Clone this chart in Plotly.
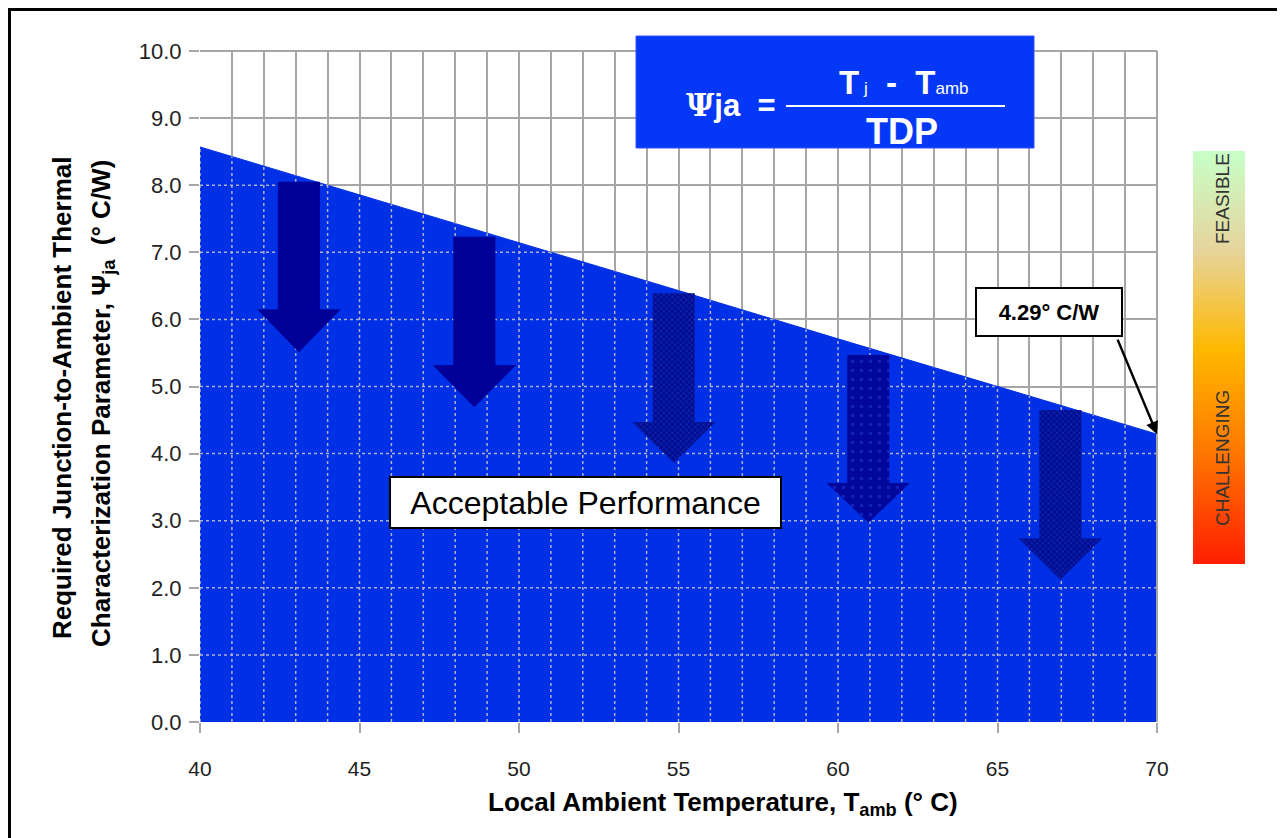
import numpy as np
import plotly.graph_objects as go

# ---- data ----
temp = [40, 45, 50, 55, 60, 65, 70]
psi = [8.57, 7.86, 7.14, 6.43, 5.71, 5.00, 4.29]
x_ticks = [40, 45, 50, 55, 60, 65, 70]
y_ticks = [0, 1, 2, 3, 4, 5, 6, 7, 8, 9, 10]
# decorative arrows: (centre x, top y, shaft-bottom y, tip y, style)
arrow_x = [43.1, 48.6, 54.85, 60.95, 66.97]
arrow_top = [8.05, 7.23, 6.39, 5.47, 4.65]
arrow_neck = [6.15, 5.32, 4.47, 3.56, 2.74]
arrow_tip = [5.51, 4.69, 3.86, 2.97, 2.12]
arrow_style = ["solid", "solid", "dense", "sparse", "dense"]
grad_pos = [0, 0.28, 0.52, 0.76, 1.0]
grad_col = ["#ff1e00", "#ff7a00", "#ffb800", "#e6d49c", "#c8ffc8"]

# ---- geometry helpers (reference-pixel -> paper) ----
OFF = 8                     # page body margin
FW, FH = 1277, 830
PL, PT, PB = 200, 51, 722   # plot left/top/bottom in reference pixels
L = PL - OFF
T = PT - OFF
B = FH - (PB - OFF)
R = 30
W = FW - L - R
H = FH - T - B


def px(p):
    return (p - PL) / W


def py(p):
    return (PB - p) / H


FILL = "#0030e6"
GRID = "#a6a6a6"
FONT = "Liberation Sans"

fig = go.Figure()

# area
fig.add_trace(go.Scatter(x=temp, y=psi, mode="lines", fill="tozeroy",
                         fillcolor=FILL, line=dict(color=FILL, width=1),
                         hoverinfo="skip", showlegend=False))

# dotted grid inside the area
gx, gy = [], []
for xi in range(40, 71):
    top = float(np.interp(xi, temp, psi))
    gx += [xi, xi, None]
    gy += [0, top, None]
for yi in range(1, 10):
    xe = float(np.interp(yi, psi[::-1], temp[::-1]))
    if xe > 40:
        gx += [40, xe, None]
        gy += [yi, yi, None]
fig.add_trace(go.Scatter(x=gx, y=gy, mode="lines",
                         line=dict(color="#aeb0c8", width=1.5, dash="dot"),
                         hoverinfo="skip", showlegend=False))

# arrows
sw, hw = 0.66, 1.31
for cx, t, n, tip, st in zip(arrow_x, arrow_top, arrow_neck, arrow_tip, arrow_style):
    xs = [cx - sw, cx + sw, cx + sw, cx + hw, cx, cx - hw, cx - sw, cx - sw]
    ys = [t, t, n, n, tip, n, n, t]
    kw = dict(x=xs, y=ys, mode="lines", fill="toself",
              line=dict(width=0, color="#000099"), hoverinfo="skip", showlegend=False)
    if st == "solid":
        kw["fillcolor"] = "#000099"
    elif st == "dense":
        kw["fillcolor"] = "#000d9a"
        kw["fillpattern"] = dict(shape="x", fgcolor="#2a4ae8", bgcolor="#000d90",
                                 size=4, solidity=0.3)
    else:
        kw["fillcolor"] = "#000099"
        kw["fillpattern"] = dict(shape=".", fgcolor="#2040e0", bgcolor="#00079a",
                                 size=9, solidity=0.12)
    fig.add_trace(go.Scatter(**kw))

# gradient bar
fig.add_trace(go.Heatmap(x=[0, 1], y=[0, 1], z=[[0, 0], [1, 1]],
                         colorscale=[[p, c] for p, c in zip(grad_pos, grad_col)],
                         zsmooth="best", showscale=False, hoverinfo="skip",
                         xaxis="x2", yaxis="y2"))

shapes = [
    dict(type="line", xref="paper", yref="paper", x0=0, x1=px(1157), y0=1, y1=1,
         line=dict(color=GRID, width=2)),
    dict(type="line", xref="paper", yref="paper", x0=px(1157), x1=px(1157), y0=0, y1=1,
         line=dict(color=GRID, width=2)),
    dict(type="line", xref="paper", yref="paper", x0=px(8), x1=px(1300), y0=py(9.5), y1=py(9.5),
         line=dict(color="black", width=3)),
    dict(type="line", xref="paper", yref="paper", x0=px(9.5), x1=px(9.5), y0=py(8), y1=py(850),
         line=dict(color="black", width=3)),
    dict(type="rect", xref="paper", yref="paper", x0=px(636), x1=px(1034), y0=py(148), y1=py(36),
         fillcolor="#0537f6", line=dict(color="#3355ff", width=1)),
    dict(type="line", xref="paper", yref="paper", x0=px(786), x1=px(1005), y0=py(106), y1=py(106),
         line=dict(color="white", width=2)),
]


def note(xp, yp, text, size, color="black", bold=False, **kw):
    d = dict(x=px(xp), y=py(yp), xref="paper", yref="paper", showarrow=False,
             xanchor="center", yanchor="middle", text=f"<b>{text}</b>" if bold else text,
             font=dict(family=FONT, size=size, color=color))
    d.update(kw)
    return d


ann = [
    note(731, 105, '<span style="font-family:DejaVu Serif">Ψ</span>ja  =', 31, "white", True),
    note(904, 83, 'T<span style="font-size:17px;font-weight:normal"> j</span>  -  '
                  'T<span style="font-size:17px;font-weight:normal">amb</span>',
         33, "white", True),
    note(902, 131, "TDP", 36, "white", True),
    note(585, 502, "Acceptable Performance", 32, bgcolor="white", bordercolor="black",
         borderwidth=2, borderpad=0, width=389, height=49),
    dict(x=temp[-1], y=psi[-1], xref="x", yref="y", ax=-40, ay=-96, text="",
         showarrow=True, arrowhead=2, arrowsize=1, arrowwidth=2.5, arrowcolor="black"),
    note(1049, 312, f"{psi[-1]:.2f}° C/W", 22, bold=True, bgcolor="white",
         bordercolor="black", borderwidth=2, borderpad=0, width=144, height=46),
    note(1222, 199, "FEASIBLE", 19, "#333333", textangle=-90),
    note(1222, 458, "CHALLENGING", 19, "#333333", textangle=-90),
    note(723, 803, "Local Ambient Temperature, T<sub>amb</sub> (° C)", 26, bold=True),
    note(62, 398, "Required Junction-to-Ambient Thermal", 26, bold=True, textangle=-90),
    note(102, 404, "Characterization Parameter, Ψ<sub>ja</sub>  (° C/W)", 26, bold=True,
         textangle=-90),
]

fig.update_layout(
    width=FW, height=FH,
    margin=dict(l=L, r=R, t=T, b=B),
    paper_bgcolor="white", plot_bgcolor="white",
    showlegend=False,
    xaxis=dict(domain=[0, px(1157)], range=[40, 70], tickvals=x_ticks,
               ticks="outside", ticklen=10, tickwidth=1.5, tickcolor=GRID,
               showgrid=True, gridcolor=GRID, gridwidth=1.5, zeroline=False,
               showline=False, ticklabelstandoff=18,
               minor=dict(tickmode="linear", tick0=40, dtick=1, showgrid=True,
                          gridcolor=GRID, gridwidth=1.5, ticks=""),
               tickfont=dict(family=FONT, size=21, color="#222222"),
               fixedrange=True),
    yaxis=dict(range=[0, 10], tickvals=y_ticks, tickformat=".1f",
               ticks="outside", ticklen=10, tickwidth=1.5, tickcolor=GRID,
               showgrid=True, gridcolor=GRID, gridwidth=1.5, zeroline=False,
               showline=False, ticklabelstandoff=3,
               tickfont=dict(family=FONT, size=22, color="#222222"),
               fixedrange=True),
    xaxis2=dict(domain=[px(1193), px(1245)], range=[0, 1], visible=False, anchor="y2"),
    yaxis2=dict(domain=[py(564), py(151)], range=[0, 1], visible=False, anchor="x2"),
    shapes=shapes,
    annotations=ann,
)

fig.write_html("out.html")
